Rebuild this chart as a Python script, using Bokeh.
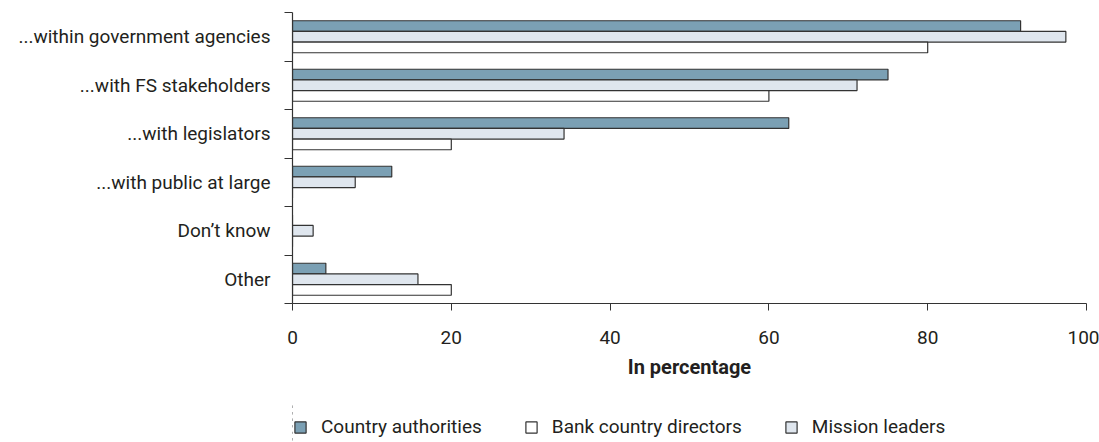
from bokeh.plotting import figure
from bokeh.layouts import column
from bokeh.models import Range1d, FixedTicker, Legend, LegendItem, ColumnDataSource, BoxAnnotation
from bokeh.transform import dodge
from bokeh.embed import file_html
from bokeh.resources import INLINE

categories = ["...within government agencies", "...with FS stakeholders", "...with legislators",
              "...with public at large", "Don\u2019t know", "Other"]
country_authorities = [91.7, 75.0, 62.5, 12.5, 0.0, 4.2]
mission_leaders = [97.4, 71.1, 34.2, 7.9, 2.6, 15.8]
bank_country_directors = [80.0, 60.0, 20.0, 0.0, 0.0, 20.0]
x_ticks = [0, 20, 40, 60, 80, 100]
series_names = ["Country authorities", "Bank country directors", "Mission leaders"]
series_fields = ["ca", "bcd", "ml"]
series_colors = ["#7ba0b4", "white", "#dfe6ee"]

FONT = "Roboto"
FS = "19px"
TXT = "#231f20"
AX = "#333333"

n = len(categories)
centers = [n - i - 0.5 for i in range(n)]
boundaries = list(range(n + 1))

src = ColumnDataSource(dict(y=centers, ca=country_authorities, ml=mission_leaders,
                            bcd=bank_country_directors))

p = figure(frame_width=794, frame_height=291, output_backend="svg", toolbar_location=None,
           x_range=Range1d(0, 100), y_range=Range1d(0, n),
           min_border_left=292, min_border_right=13, min_border_top=12, min_border_bottom=100)
p.outline_line_color = None
p.xgrid.grid_line_color = None
p.ygrid.grid_line_color = None
p.background_fill_color = "white"

bh = 0.22
p.hbar(y=dodge("y", bh, range=None), left=0, right="ca", height=bh, source=src,
       fill_color=series_colors[0], line_color=AX, line_width=1.2)
p.hbar(y=dodge("y", 0, range=None), left=0, right="ml", height=bh, source=src,
       fill_color=series_colors[2], line_color=AX, line_width=1.2)
p.hbar(y=dodge("y", -bh, range=None), left=0, right="bcd", height=bh, source=src,
       fill_color=series_colors[1], line_color=AX, line_width=1.2)

# x axis
xa = p.xaxis[0]
xa.ticker = FixedTicker(ticks=x_ticks)
xa.axis_line_color = AX
xa.axis_line_width = 1.2
xa.major_tick_line_color = AX
xa.major_tick_out = 7
xa.major_tick_in = 0
xa.minor_tick_line_color = None
xa.major_label_text_font = FONT
xa.major_label_text_font_size = FS
xa.major_label_text_color = TXT
xa.major_label_standoff = 20
xa.axis_label = "In percentage"
xa.axis_label_text_font = FONT
xa.axis_label_text_font_size = "20px"
xa.axis_label_text_font_style = "bold"
xa.axis_label_text_color = TXT
xa.axis_label_standoff = 8

# y axis
ya = p.yaxis[0]
ya.ticker = FixedTicker(ticks=centers, minor_ticks=boundaries)
ya.major_label_overrides = {c: cat for c, cat in zip(centers, categories)}
ya.axis_line_color = AX
ya.axis_line_width = 1.2
ya.major_tick_line_color = None
ya.major_tick_out = 8
ya.major_tick_in = 0
ya.minor_tick_line_color = AX
ya.minor_tick_out = 8
ya.minor_tick_in = 0
ya.major_label_text_font = FONT
ya.major_label_text_font_size = FS
ya.major_label_text_color = TXT
ya.major_label_standoff = 14

# legend strip below the chart (its bars are hidden under a white cover; only the key shows)
lg = figure(frame_width=794, frame_height=39, output_backend="svg", toolbar_location=None,
            x_axis_type=None, y_axis_type=None, x_range=Range1d(0, 100), y_range=Range1d(0, n),
            min_border_left=292, min_border_right=13, min_border_top=0, min_border_bottom=0)
lg.outline_line_color = None
lg.xgrid.grid_line_color = None
lg.ygrid.grid_line_color = None
items = []
for name, fld, col in zip(series_names, series_fields, series_colors):
    r = lg.hbar(y="y", left=0, right=fld, height=bh, source=src,
                fill_color=col, line_color=AX, line_width=1.2)
    items.append(LegendItem(label=name, renderers=[r]))
lg.add_layout(BoxAnnotation(left=-5, right=105, bottom=-1, top=n + 1,
                            fill_color="white", fill_alpha=1.0, line_color=None, line_alpha=0))
legend = Legend(items=items, orientation="horizontal", location=(1, 4),
                padding=0, margin=0, spacing=42, label_standoff=14,
                glyph_width=14, glyph_height=14,
                border_line_color=None, background_fill_alpha=0,
                label_text_font=FONT, label_text_font_size=FS, label_text_color=TXT)
lg.add_layout(legend, "center")

layout = column(p, lg, spacing=0)
open("out.html", "w").write(file_html(layout, INLINE))
